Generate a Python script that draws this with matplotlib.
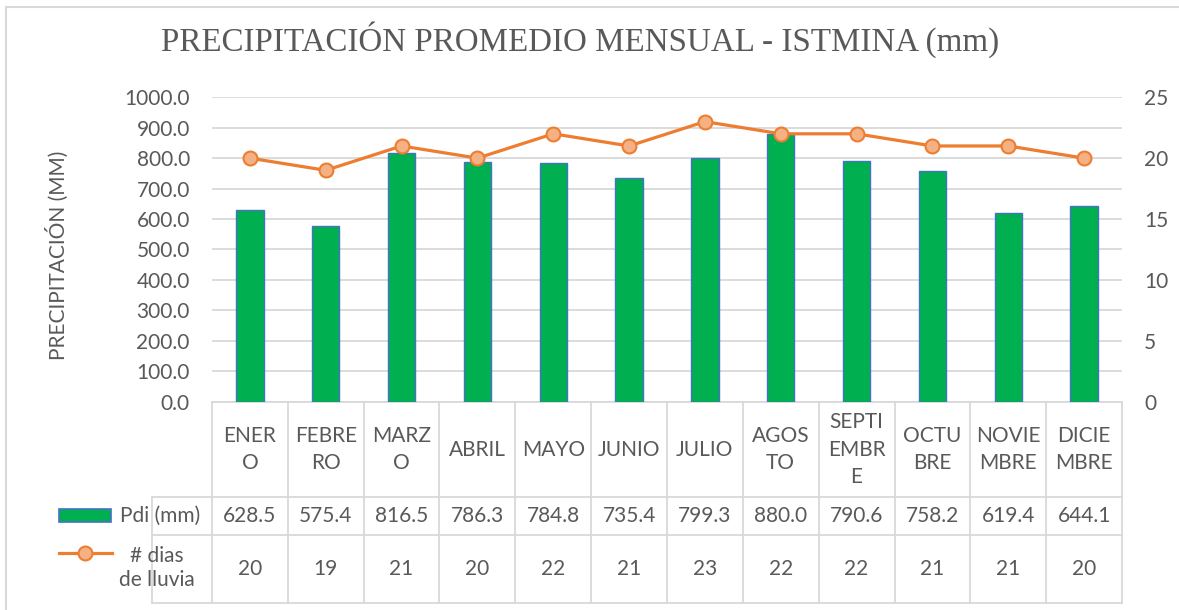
import numpy as np
import matplotlib.pyplot as plt
from matplotlib.lines import Line2D
from matplotlib.patches import Rectangle

# data
months = ['ENER\nO', 'FEBRE\nRO', 'MARZ\nO', 'ABRIL', 'MAYO', 'JUNIO', 'JULIO',
          'AGOS\nTO', 'SEPTI\nEMBR\nE', 'OCTU\nBRE', 'NOVIE\nMBRE', 'DICIE\nMBRE']
pdi = [628.5, 575.4, 816.5, 786.3, 784.8, 735.4, 799.3, 880.0, 790.6, 758.2, 619.4, 644.1]
dias = [20, 19, 21, 20, 22, 21, 23, 22, 22, 21, 21, 20]

W, H = 1179, 610
plt.rcParams['font.family'] = ['Lato', 'DejaVu Sans']
txt = '#595959'
grid = '#d9d9d9'
green = '#00b050'
blue = '#4472c4'
orange = '#ed7d31'
salmon = '#f4b183'


def fx(x):
    return x / W


def fy(y):
    return 1 - y / H


fig = plt.figure(figsize=(W / 100, H / 100), dpi=100)

# plot area in pixels
L, R, T, B = 212, 1122, 97.3, 401.5
ax = fig.add_axes([fx(L), fy(B), fx(R) - fx(L), fy(T) - fy(B)])
x = np.arange(len(months))
ax.bar(x, pdi, width=0.36, color=green, edgecolor=blue, linewidth=1.0, zorder=3)
ax.set_xlim(-0.5, len(months) - 0.5)
ax.set_ylim(0, 1000)
ax.set_yticks(np.arange(0, 1001, 100))
ax.set_yticklabels([f'{v:.1f}' for v in np.arange(0, 1001, 100)])
ax.yaxis.grid(True, color=grid, linewidth=1.3, zorder=0)
ax.set_axisbelow(True)
ax.tick_params(axis='y', length=0, pad=16, labelsize=15, labelcolor=txt)
ax.tick_params(axis='x', length=0, labelbottom=False)
for s in ['top', 'right', 'left']:
    ax.spines[s].set_visible(False)
ax.spines['bottom'].set_color(grid)
ax.spines['bottom'].set_linewidth(1.3)

ax2 = ax.twinx()
ax2.plot(x, dias, color=orange, linewidth=2.3, marker='o', markersize=10,
         markerfacecolor=salmon, markeredgecolor=orange, markeredgewidth=1.5, zorder=4)
ax2.set_ylim(0, 25)
ax2.set_yticks(np.arange(0, 26, 5))
ax2.tick_params(axis='y', length=0, pad=16, labelsize=15, labelcolor=txt)
for s in ax2.spines.values():
    s.set_visible(False)

# title and axis label
fig.text(fx(580), fy(40), 'PRECIPITACIÓN PROMEDIO MENSUAL - ISTMINA (mm)',
         family='Liberation Serif', fontsize=23.8, color=txt, ha='center', va='center')
fig.text(fx(57), fy(255), 'PRECIPITACIÓN (MM)', rotation=90, fontsize=15,
         color=txt, ha='center', va='center')

# data table
cw = (R - L) / len(months)
y_hdr, y_r1, y_r2, y_end = 402, 497, 535, 603
lw = 1.3
for i in range(len(months) + 1):
    xx = L + i * cw
    fig.add_artist(Line2D([fx(xx), fx(xx)], [fy(y_hdr), fy(y_end)], color=grid, lw=lw))
for yy in [y_r1, y_r2, y_end]:
    fig.add_artist(Line2D([fx(152), fx(R)], [fy(yy), fy(yy)], color=grid, lw=lw))
fig.add_artist(Line2D([fx(152), fx(152)], [fy(y_r1), fy(y_end)], color=grid, lw=lw))

for i, m in enumerate(months):
    cx = L + (i + 0.5) * cw
    fig.text(fx(cx), fy((y_hdr + y_r1) / 2), m, ha='center', va='center',
             fontsize=15, color=txt, linespacing=1.45)
    fig.text(fx(cx), fy((y_r1 + y_r2) / 2), f'{pdi[i]:.1f}', ha='center', va='center',
             fontsize=15, color=txt)
    fig.text(fx(cx), fy((y_r2 + y_end) / 2), f'{dias[i]}', ha='center', va='center',
             fontsize=15, color=txt)

# legend keys in the table
fig.add_artist(Rectangle((fx(59), fy(522)), fx(111) - fx(59), fy(509) - fy(522),
                         facecolor=green, edgecolor=blue, lw=1.2))
fig.text(fx(160), fy(516), 'Pdi (mm)', ha='center', va='center', fontsize=15, color=txt)
fig.add_artist(Line2D([fx(59), fx(112)], [fy(553), fy(553)], color=orange, lw=2.3))
fig.add_artist(Line2D([fx(85)], [fy(553)], marker='o', markersize=10,
                      markerfacecolor=salmon, markeredgecolor=orange, markeredgewidth=1.5))
fig.text(fx(157), fy(568), '# dias\nde lluvia', ha='center', va='center', fontsize=15,
         color=txt, linespacing=1.3)

# outer chart border
fig.add_artist(Rectangle((fx(6), fy(H + 20)), fx(W + 20), fy(7) - fy(H + 20),
                         fill=False, edgecolor=grid, lw=1.5))

fig.savefig('out.png', dpi=100)
